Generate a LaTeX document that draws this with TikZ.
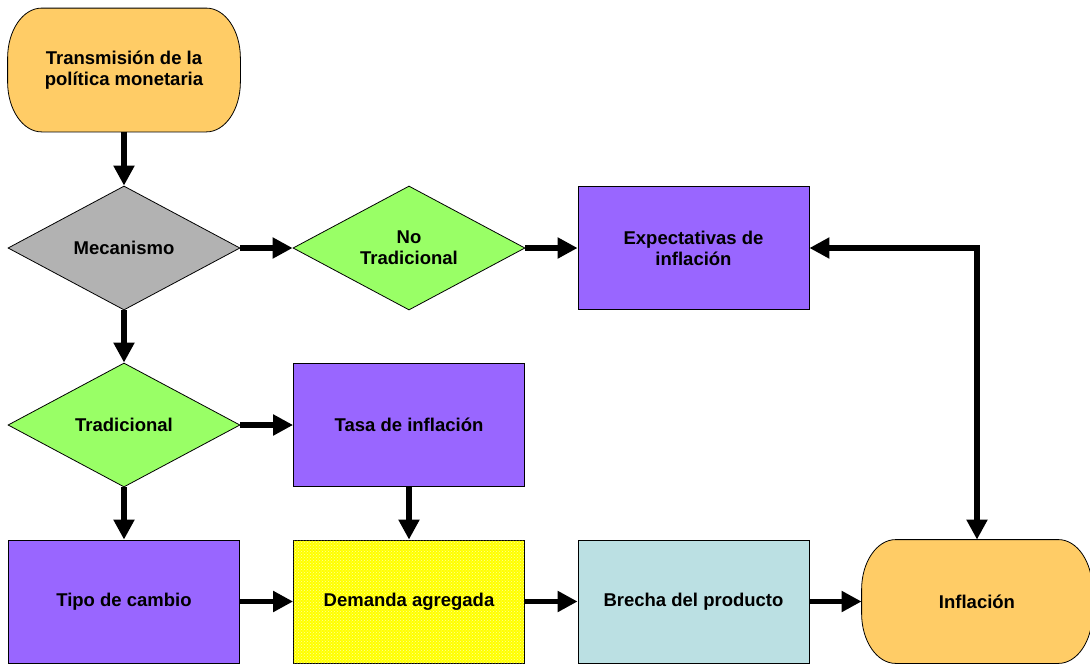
\documentclass[tikz,border=0pt]{standalone}
\usepackage{fontspec}
\setmainfont{Liberation Sans}
\usetikzlibrary{shapes.geometric,arrows.meta,patterns,backgrounds}
\definecolor{termc}{RGB}{255,204,102}
\definecolor{purp}{RGB}{153,102,255}
\definecolor{grn}{RGB}{153,255,102}
\definecolor{gry}{RGB}{178,178,178}
\definecolor{cyn}{RGB}{187,224,227}
\definecolor{yel}{RGB}{255,255,0}
\newcommand{\termoutline}[1]{%
  \begin{scope}[on background layer]
  \path[fill=termc, draw=black, line width=0.8pt]
    ([xshift=34pt]#1.north west) -- ([xshift=-34pt]#1.north east)
    arc[start angle=90, end angle=0, x radius=34pt, y radius=50pt]
    -- ([yshift=50pt]#1.south east)
    arc[start angle=0, end angle=-90, x radius=34pt, y radius=50pt]
    -- ([xshift=34pt]#1.south west)
    arc[start angle=-90, end angle=-180, x radius=34pt, y radius=50pt]
    -- ([yshift=-50pt]#1.north west)
    arc[start angle=180, end angle=90, x radius=34pt, y radius=50pt]
    -- cycle;
  \end{scope}}
\begin{document}
\begin{tikzpicture}[x=1pt,y=-1pt,
  base/.style={draw=black, line width=0.8pt, align=center, inner sep=0pt,
    font=\fontsize{18.5}{21}\selectfont\bfseries},
  term/.style={base, draw=none, minimum width=232pt, minimum height=123pt},
  box/.style={base, fill=purp, minimum width=231pt, minimum height=123pt},
  dia/.style={base, diamond, fill=grn, inner sep=-15pt, minimum width=232pt, minimum height=124pt},
  arr/.style={line width=5.5pt, -{Triangle[length=20pt,width=20pt]}},
  darr/.style={line width=5.5pt, {Triangle[length=20pt,width=20pt]}-{Triangle[length=20pt,width=20pt]}}
]
\useasboundingbox (0,0) rectangle (1090,664);
\node[term] (tr) at (124,70) {Transmisión de la\\política monetaria};
\termoutline{tr}
\node[dia, fill=gry] (mec) at (124,248) {Mecanismo};
\node[dia] (notr) at (409,248) {No\\Tradicional};
\node[box] (exp) at (693.5,248) {Expectativas de\\inflación};
\node[dia] (trad) at (124,425) {Tradicional};
\node[box] (tasa) at (409,425) {Tasa de inflación};
\node[box] (tipo) at (124,601.5) {Tipo de cambio};
\node[box, fill=yel, postaction={pattern=crosshatch dots, pattern color=white!60!yel}] (dem) at (409,601.5) {Demanda agregada};
\node[box, fill=cyn] (bre) at (693.5,601.5) {Brecha del producto};
\node[term, minimum width=230pt] (inf) at (977,601.5) {Inflación};
\termoutline{inf}
\draw[arr] (tr.south) -- (mec.north);
\draw[arr] (mec.east) -- (notr.west);
\draw[arr] (notr.east) -- (exp.west);
\draw[arr] (mec.south) -- (trad.north);
\draw[arr] (trad.east) -- (tasa.west);
\draw[arr] (trad.south) -- (tipo.north);
\draw[arr] (tasa.south) -- (dem.north);
\draw[arr] (tipo.east) -- (dem.west);
\draw[arr] (dem.east) -- (bre.west);
\draw[arr] (bre.east) -- (inf.west);
\draw[darr] (inf.north) |- (exp.east);
\end{tikzpicture}
\end{document}
